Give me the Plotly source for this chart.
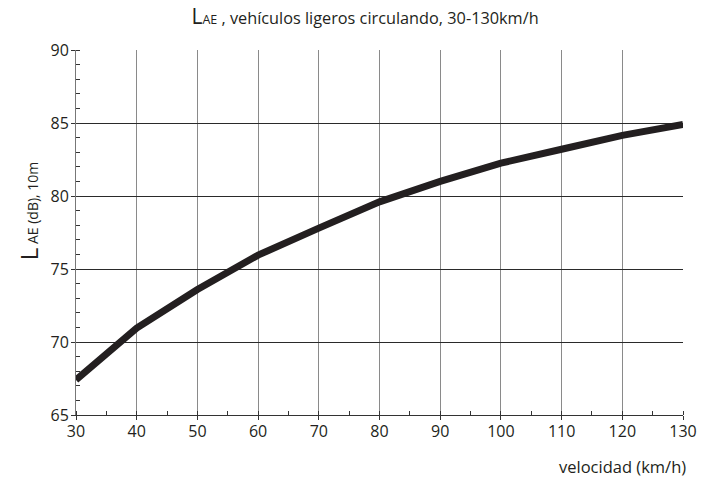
import plotly.graph_objects as go

speed_kmh = [30, 40, 50, 60, 70, 80, 90, 100, 110, 120, 130]
lae_db = [67.4, 70.95, 73.6, 75.95, 77.8, 79.6, 81.0, 82.25, 83.2, 84.15, 84.9]
x_ticks = [30, 40, 50, 60, 70, 80, 90, 100, 110, 120, 130]
y_ticks = [65, 70, 75, 80, 85, 90]

FONT = "Open Sans"
fig = go.Figure()
fig.add_trace(go.Scatter(x=speed_kmh, y=lae_db, mode="lines",
                         line=dict(color="#231f20", width=7),
                         showlegend=False, hoverinfo="skip"))

fig.update_layout(
    width=702, height=481,
    margin=dict(l=76, r=19, t=50, b=66, autoexpand=False),
    paper_bgcolor="white", plot_bgcolor="white",
    font=dict(family=FONT, size=16, color="#231f20"),
    title=dict(text="<span style='font-size:21px'>L</span><span style='font-size:12.5px'>AE</span> , vehículos ligeros circulando, 30-130km/h",
               x=0.52, xanchor="center", y=0.962, yanchor="middle",
               font=dict(family=FONT, size=16.3, color="#231f20")),
)
fig.update_xaxes(range=[30, 130], tickvals=x_ticks, ticks="outside", ticklen=4,
                 tickcolor="#333", showgrid=True, gridcolor="#8a8a8a", gridwidth=1,
                 showline=True, linecolor="#333", linewidth=1, zeroline=False,
                 tickfont=dict(size=16), ticklabelstandoff=-2, automargin=False,
                 minor=dict(dtick=5, tick0=0, ticks="inside", ticklen=4, tickcolor="#333", showgrid=False))
fig.update_yaxes(range=[65, 90], tickvals=y_ticks, ticks="outside", ticklen=4,
                 tickcolor="#333", showgrid=True, gridcolor="#2a2a2a", gridwidth=1,
                 showline=True, linecolor="#777", linewidth=1, zeroline=False,
                 tickfont=dict(size=16), ticklabelstandoff=-1, automargin=False,
                 minor=dict(dtick=1, tick0=0, ticks="inside", ticklen=4, tickcolor="#333", showgrid=False))

fig.add_annotation(text="velocidad (km/h)", xref="paper", yref="paper",
                   x=1.0085, y=-0.14, xanchor="right", yanchor="middle", showarrow=False,
                   font=dict(family=FONT, size=16.5, color="#231f20"))
fig.add_annotation(text="<span style='font-size:24px'>L</span><span style='font-size:14px'> AE</span> (dB), 10m",
                   xref="paper", yref="paper", x=-0.077, y=0.559,
                   xanchor="center", yanchor="middle", textangle=-90, showarrow=False,
                   font=dict(family=FONT, size=14, color="#231f20"))

fig.write_html("out.html", config={"displayModeBar": False},
               post_script="document.body.style.margin='0';")
